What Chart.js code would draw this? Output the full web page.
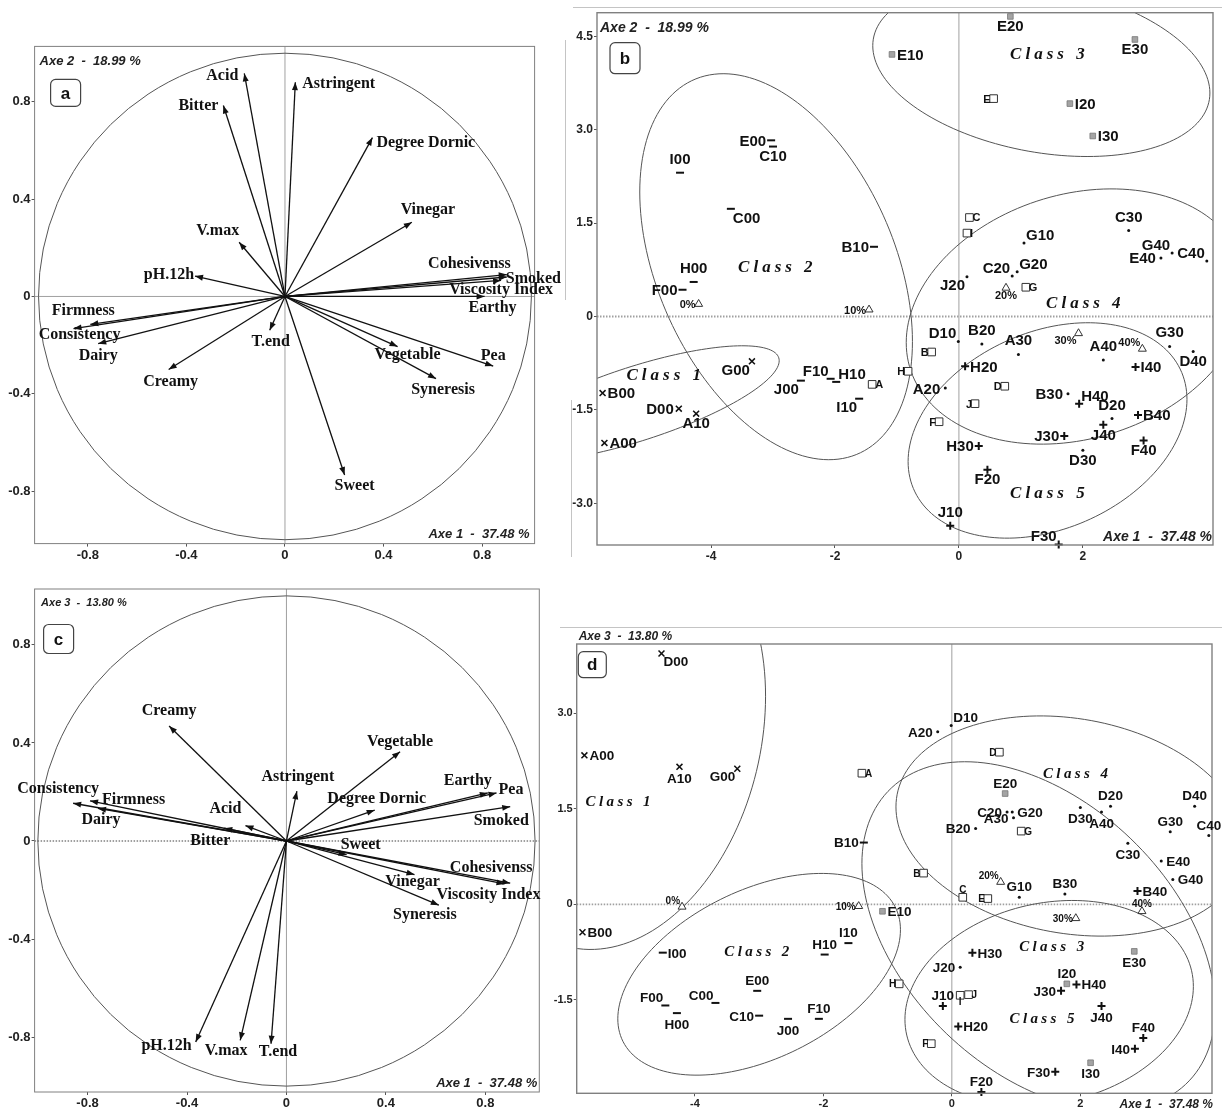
<!DOCTYPE html>
<html lang="en">
<head>
<meta charset="utf-8">
<title>PCA maps</title>
<script src="https://cdn.jsdelivr.net/npm/chart.js@4.4.1/dist/chart.umd.min.js"></script>
<style>
    html, body { margin: 0; padding: 0; background: #fff; }
    body { position: relative; width: 1222px; height: 1112px; overflow: hidden; }
    canvas { position: absolute; }
    .scan { position: absolute; background: #c4c4c4; }
</style>
</head>
<body>
<div class="scan" style="left:565px;top:40px;width:1px;height:260px"></div>
<div class="scan" style="left:571px;top:400px;width:1px;height:157px"></div>
<div class="scan" style="left:573px;top:7px;width:649px;height:1px"></div>
<div class="scan" style="left:560px;top:627px;width:662px;height:1px"></div>
<canvas id="panelA"></canvas>
<canvas id="panelB"></canvas>
<canvas id="panelC"></canvas>
<canvas id="panelD"></canvas>
<script>
/**
 * PCA of the products: correlation circles (a, c) and sample maps
 * with the class ellipses (b, d), axes 1-2 on top and 1-3 below.
 */

// ---- variables: correlations with axes 1, 2 and 3 ----
const variables = ['Acid', 'Astringent', 'Bitter', 'Degree Dornic', 'Vinegar', 'V.max', 'pH.12h',
    'Cohesivenss', 'Smoked', 'Viscosity Index', 'Earthy', 'Firmness', 'Consistency', 'Dairy',
    'Creamy', 'T.end', 'Vegetable', 'Pea', 'Syneresis', 'Sweet'];
const varAxe1 = [-0.165, 0.042, -0.25, 0.355, 0.515, -0.186, -0.365,
    0.90, 0.90, 0.877, 0.81, -0.79, -0.858, -0.758,
    -0.472, -0.062, 0.457, 0.845, 0.613, 0.242];
const varAxe2 = [0.917, 0.881, 0.785, 0.653, 0.305, 0.223, 0.084,
    0.09, 0.08, 0.066, 0.0, -0.115, -0.132, -0.194,
    -0.30, -0.139, -0.206, -0.286, -0.338, -0.734];
const varAxe3 = [0.063, 0.203, 0.052, 0.126, -0.137, -0.813, -0.82,
    -0.172, 0.14, -0.175, 0.196, 0.164, 0.154, 0.133,
    0.469, -0.827, 0.364, 0.196, -0.262, -0.056];

// ---- samples: class and coordinates on axes 1, 2 and 3 ----
const samples = ['A00', 'B00', 'D00', 'G00', 'A10',
    'C00', 'E00', 'F00', 'H00', 'I00', 'J00', 'B10', 'C10', 'F10', 'H10', 'I10',
    'E10', 'E20', 'E30', 'I20', 'I30',
    'D10', 'A20', 'B20', 'C20', 'G20', 'J20', 'G10', 'A30', 'B30', 'C30', 'D30', 'G30', 'A40', 'C40', 'D40', 'E40', 'G40', 'D20',
    'H20', 'J10', 'F20', 'F30', 'H30', 'J30', 'H40', 'I40', 'B40', 'J40', 'F40'];
const sampleClass = [1, 1, 1, 1, 1,
    2, 2, 2, 2, 2, 2, 2, 2, 2, 2, 2,
    3, 3, 3, 3, 3,
    4, 4, 4, 4, 4, 4, 4, 4, 4, 4, 4, 4, 4, 4, 4, 4, 4, 4,
    5, 5, 5, 5, 5, 5, 5, 5, 5, 5, 5];
const sampleAxe1 = [-5.72, -5.75, -4.52, -3.34, -4.24,
    -3.68, -3.03, -4.46, -4.28, -4.50, -2.55, -1.37, -3.00, -2.07, -1.98, -1.61,
    -1.08, 0.83, 2.84, 1.79, 2.16,
    -0.01, -0.22, 0.37, 0.86, 0.94, 0.13, 1.05, 0.96, 1.76, 2.74, 2.00, 3.40, 2.33, 4.00, 3.78, 3.26, 3.44, 2.47,
    0.10, -0.14, 0.46, 1.61, 0.32, 1.70, 1.94, 2.85, 2.89, 2.33, 2.98];
const sampleAxe2 = [-2.03, -1.23, -1.48, -0.72, -1.56,
    1.73, 2.83, 0.43, 0.555, 2.31, -1.03, 1.12, 2.73, -1.00, -1.05, -1.32,
    4.21, 4.82, 4.45, 3.42, 2.90,
    -0.40, -1.15, -0.44, 0.65, 0.72, 0.64, 1.18, -0.61, -1.24, 1.38, -2.15, -0.48, -0.70, 0.89, -0.56, 0.94, 1.02, -1.64,
    -0.80, -3.36, -2.46, -3.66, -2.08, -1.92, -1.40, -0.81, -1.58, -1.74, -1.99];
const sampleAxe3 = [2.34, -0.44, 3.94, 2.13, 2.16,
    -1.55, -1.36, -1.59, -1.71, -0.76, -1.80, 0.97, -1.75, -1.80, -0.79, -0.61,
    -0.11, 1.74, -0.74, -1.25, -2.49,
    2.81, 2.71, 1.19, 1.45, 1.45, -0.99, 0.11, 1.36, 0.16, 0.96, 1.52, 1.14, 1.45, 1.08, 1.54, 0.68, 0.39, 1.54,
    -1.92, -1.60, -2.95, -2.63, -0.76, -1.36, -1.26, -2.27, 0.21, -1.60, -2.10];

// ---- supplementary points: strains (squares) and doses (triangles) ----
const strainNames = ['A', 'B', 'C', 'D', 'E', 'F', 'G', 'H', 'I', 'J'];
const strainAxe1 = [-1.40, -0.44, 0.17, 0.74, 0.56, -0.32, 1.08, -0.82, 0.13, 0.26];
const strainAxe2 = [-1.09, -0.57, 1.59, -1.12, 3.50, -1.69, 0.47, -0.88, 1.34, -1.40];
const strainAxe3 = [2.06, 0.49, 0.11, 2.39, 0.09, -2.19, 1.15, -1.25, -1.43, -1.42];
const doseNames = ['0%', '10%', '20%', '30%', '40%'];
const doseAxe1 = [-4.20, -1.45, 0.76, 1.93, 2.96];
const doseAxe2 = [0.20, 0.11, 0.46, -0.27, -0.52];
const doseAxe3 = [-0.04, -0.03, 0.35, -0.22, -0.11];

// ---- classes: ellipse = centre x, centre y, half width, half height, y shift at widest point ----
const classNames = ['Class 1', 'Class 2', 'Class 3', 'Class 4', 'Class 5'];
const ellipsesB = [
    [-5.2, -1.4, 2.3, 0.93, 0.69],
    [-2.95, 0.80, 2.2, 3.1, -1.2],
    [1.33, 3.97, 2.72, 1.40, -0.38],
    [1.9, 0.0, 2.75, 2.05, 0.42],
    [1.43, -1.83, 2.25, 1.73, 0.5]
];
const ellipsesD = [
    [-5.2, 2.65, 2.3, 3.36, 0.62],
    [-3.0, -1.1, 2.2, 1.585, 0.70],
    [1.35, -0.5, 2.75, 2.74, -1.14],
    [1.85, 1.23, 2.72, 1.73, -0.30],
    [1.515, -1.55, 2.245, 1.61, 0.26]
];
const classSpotB = [[-4.73, -0.95], [-2.93, 0.79], [1.46, 4.21], [2.04, 0.21], [1.46, -2.85]];
const classSpotD = [[-5.17, 1.61], [-3.01, -0.75], [1.58, -0.67], [1.95, 2.04], [1.43, -1.81]];

// ---- axes ----
const circleTicks = [-0.8, -0.4, 0, 0.4, 0.8];
const mapTicksX = [-4, -2, 0, 2];
const mapTicksYB = [-3, -1.5, 0, 1.5, 3, 4.5];
const mapTicksYD = [-1.5, 0, 1.5, 3];
const axe1Title = 'Axe 1  -  37.48 %';
const axe2Title = 'Axe 2  -  18.99 %';
const axe3Title = 'Axe 3  -  13.80 %';

const SERIF = '"Liberation Serif", "Times New Roman", serif';
const SANS = '"Liberation Sans", Arial, Helvetica, sans-serif';

// label spots around the arrow tips: [dx, dy, align]
const placeA = {
    'Acid': [-6, 2, 'right'], 'Astringent': [7, 2, 'left'], 'Bitter': [-5, 0, 'right'],
    'Degree Dornic': [4, 5, 'left'], 'Vinegar': [16, -12, 'center'], 'V.max': [0, -11, 'right'],
    'pH.12h': [-1, -1, 'right'], 'Cohesivenss': [4, -11, 'right'], 'Smoked': [-1, 2, 'left'],
    'Viscosity Index': [0, 9, 'center'], 'Earthy': [8, 11, 'center'], 'Firmness': [-7, -14, 'center'],
    'Consistency': [6, 6, 'center'], 'Dairy': [0, 12, 'center'], 'Creamy': [2, 12, 'center'],
    'T.end': [1, 12, 'center'], 'Vegetable': [10, 8, 'center'], 'Pea': [0, -10, 'center'],
    'Syneresis': [7, 11, 'center'], 'Sweet': [10, 11, 'center']
};
const placeC = {
    'Creamy': [0, -15, 'center'], 'Vegetable': [0, -10, 'center'], 'Astringent': [1, -14, 'center'],
    'Earthy': [4, -12, 'right'], 'Pea': [2, -3, 'left'], 'Degree Dornic': [2, -11, 'center'],
    'Smoked': [-9, 14, 'center'], 'Consistency': [-15, -14, 'center'], 'Firmness': [12, -1, 'left'],
    'Dairy': [3, 11, 'center'], 'Acid': [-20, -17, 'center'], 'Bitter': [-14, 13, 'center'],
    'Sweet': [14, -10, 'center'], 'Cohesivenss': [-19, -15, 'center'], 'Vinegar': [-2, 7, 'center'],
    'Viscosity Index': [-16, 11, 'center'], 'Syneresis': [-14, 10, 'center'], 'pH.12h': [-4, 4, 'right'],
    'V.max': [-14, 11, 'center'], 'T.end': [7, 8, 'center']
};

// label spots around the sample marks: r, l, t, b or a corner
const placeB = {
    A00: 'r', B00: 'r', D00: 'l', G00: 'bl', A10: 'b',
    C00: 'br', E00: 'l', F00: 'l', H00: 't', I00: 't', J00: 'bl', B10: 'l', C10: 'b', F10: 'tl', H10: 'tr', I10: 'bl',
    E10: 'r', E20: 'b', E30: 'b', I20: 'r', I30: 'r',
    D10: 'tl', A20: 'l', B20: 't', C20: 'tl', G20: 'tr', J20: 'bl', G10: 'tr', A30: 't', B30: 'l', C30: 't',
    D30: 'b', G30: 't', A40: 't', C40: 'tl', D40: 'b', E40: 'l', G40: 'tl', D20: 't',
    H20: 'r', J10: 't', F20: 'b', F30: 'tl', H30: 'l', J30: 'l', H40: 'tr', I40: 'r', B40: 'r', J40: 'b', F40: 'b',
    A: 'r', B: 'l', C: 'r', D: 'l', E: 'l', F: 'l', G: 'r', H: 'l', I: 'r', J: 'l',
    '0%': 'l', '10%': 'l', '20%': 'b', '30%': 'bl', '40%': 'tl'
};
const placeD = {
    A00: 'r', B00: 'r', D00: 'br', G00: 'bl', A10: 'b',
    C00: 'tl', E00: 't', F00: 'tl', H00: 'b', I00: 'r', J00: 'b', B10: 'l', C10: 'l', F10: 't', H10: 't', I10: 't',
    E10: 'r', E20: 't', E30: 'b', I20: 't', I30: 'b',
    D10: 'tr', A20: 'l', B20: 'l', C20: 'l', G20: 'r', J20: 'l', G10: 't', A30: 'l', B30: 't', C30: 'b',
    D30: 'b', G30: 't', A40: 'b', C40: 't', D40: 't', E40: 'r', G40: 'r', D20: 't',
    H20: 'r', J10: 't', F20: 't', F30: 'l', H30: 'r', J30: 'l', H40: 'r', I40: 'l', B40: 'r', J40: 'b', F40: 't',
    A: 'r', B: 'l', C: 't', D: 'l', E: 'l', F: 'l', G: 'r', H: 'l', I: 'b', J: 'r',
    '0%': 'tl', '10%': 'l', '20%': 'tl', '30%': 'l', '40%': 't'
};

const fmtDecimal = v => (v === 0 ? '0' : v.toFixed(1));
const fmtInteger = v => String(v);

/**
 * Size and place a canvas; the padding puts the plot frame where it is in the figure
 */
function placeCanvas(id, box, frame, yAxisW, xAxisH) {
    const canvas = document.getElementById(id);
    canvas.width = box.w;
    canvas.height = box.h;
    canvas.style.left = box.left + 'px';
    canvas.style.top = box.top + 'px';
    canvas.style.width = box.w + 'px';
    canvas.style.height = box.h + 'px';
    const padding = {
        left: frame.l - box.left - yAxisW,
        top: frame.t - box.top,
        right: box.left + box.w - frame.r,
        bottom: box.top + box.h - frame.b - xAxisH
    };
    return { canvas, padding };
}

function linearAxis(min, max, ticks, fmt, fontSize, fitSize, horizontal) {
    return {
        type: 'linear',
        min: min,
        max: max,
        afterBuildTicks: scale => { scale.ticks = ticks.map(v => ({ value: v })); },
        afterFit: scale => {
            if (horizontal) scale.height = fitSize; else scale.width = fitSize;
        },
        ticks: {
            autoSkip: false,
            maxRotation: 0,
            padding: 1,
            color: '#222',
            font: { family: SANS, size: fontSize, weight: 'bold' },
            callback: value => fmt(value)
        },
        grid: { drawOnChartArea: false, drawTicks: true, tickLength: 3, tickColor: '#555', color: '#555' },
        border: { display: false }
    };
}

function drawZeroLines(ctx, a, x, y, dotted) {
    const x0 = x.getPixelForValue(0);
    const y0 = y.getPixelForValue(0);
    ctx.save();
    ctx.strokeStyle = '#888';
    ctx.lineWidth = 0.8;
    ctx.beginPath();
    ctx.moveTo(x0, a.top);
    ctx.lineTo(x0, a.bottom);
    ctx.stroke();
    if (dotted) {
        ctx.strokeStyle = '#a0a0a0';
        ctx.lineWidth = 1.8;
        ctx.setLineDash([1.5, 1.5]);
    }
    ctx.beginPath();
    ctx.moveTo(a.left, y0);
    ctx.lineTo(a.right, y0);
    ctx.stroke();
    ctx.restore();
}

function drawFrame(ctx, a, width) {
    ctx.save();
    ctx.strokeStyle = '#808080';
    ctx.lineWidth = width;
    ctx.strokeRect(a.left, a.top, a.right - a.left, a.bottom - a.top);
    ctx.restore();
}

function drawAxisTitles(ctx, a, t) {
    ctx.save();
    ctx.fillStyle = '#222';
    ctx.textBaseline = 'alphabetic';
    ctx.font = 'italic bold ' + t.topSize + 'px ' + SANS;
    ctx.textAlign = 'left';
    ctx.fillText(t.top, a.left + t.topDx, a.top + t.topDy);
    ctx.font = 'italic bold ' + t.bottomSize + 'px ' + SANS;
    ctx.textAlign = 'right';
    ctx.fillText(axe1Title, a.right + t.bottomDx, a.bottom + t.bottomDy);
    ctx.restore();
}

function drawLetterBox(ctx, a, box, letter) {
    ctx.save();
    ctx.fillStyle = '#fff';
    ctx.strokeStyle = '#444';
    ctx.lineWidth = 1.2;
    ctx.beginPath();
    ctx.roundRect(a.left + box[0], a.top + box[1], box[2], box[3], 5);
    ctx.fill();
    ctx.stroke();
    ctx.fillStyle = '#111';
    ctx.font = 'bold 17px ' + SANS;
    ctx.textAlign = 'center';
    ctx.textBaseline = 'middle';
    ctx.fillText(letter, a.left + box[0] + box[2] / 2, a.top + box[1] + box[3] / 2 + 1);
    ctx.restore();
}

function drawArrowHead(ctx, x1, y1, ang) {
    const len = 8, half = 3;
    ctx.beginPath();
    ctx.moveTo(x1, y1);
    ctx.lineTo(x1 - len * Math.cos(ang) + half * Math.sin(ang), y1 - len * Math.sin(ang) - half * Math.cos(ang));
    ctx.lineTo(x1 - len * Math.cos(ang) - half * Math.sin(ang), y1 - len * Math.sin(ang) + half * Math.cos(ang));
    ctx.closePath();
    ctx.fill();
}

/**
 * Correlation circle: one arrow per variable from the origin
 */
function loadingChart(cfg) {
    const { canvas, padding } = placeCanvas(cfg.id, cfg.box, cfg.frame, 30, cfg.xAxisH);

    const datasets = variables.map((name, i) => ({
        label: name,
        data: [{ x: 0, y: 0 }, { x: varAxe1[i], y: cfg.yValues[i] }],
        showLine: true,
        borderColor: '#111',
        borderWidth: 1.3,
        pointRadius: 0,
        clip: false
    }));

    const decor = {
        id: 'decor' + cfg.id,
        beforeDatasetsDraw(chart) {
            const { ctx, chartArea: a, scales: { x, y } } = chart;
            drawZeroLines(ctx, a, x, y, cfg.dottedZero);
            ctx.save();
            ctx.strokeStyle = '#555';
            ctx.lineWidth = 1;
            ctx.beginPath();
            ctx.ellipse(x.getPixelForValue(0), y.getPixelForValue(0),
                x.getPixelForValue(1) - x.getPixelForValue(0),
                y.getPixelForValue(0) - y.getPixelForValue(1), 0, 0, Math.PI * 2);
            ctx.stroke();
            ctx.restore();
        },
        afterDatasetsDraw(chart) {
            const { ctx, chartArea: a, scales: { x, y } } = chart;
            drawFrame(ctx, a, 1);
            ctx.save();
            ctx.fillStyle = '#111';
            ctx.font = 'bold 16px ' + SERIF;
            ctx.textBaseline = 'middle';
            variables.forEach((name, i) => {
                const x0 = x.getPixelForValue(0), y0 = y.getPixelForValue(0);
                const x1 = x.getPixelForValue(varAxe1[i]), y1 = y.getPixelForValue(cfg.yValues[i]);
                drawArrowHead(ctx, x1, y1, Math.atan2(y1 - y0, x1 - x0));
                const p = cfg.place[name];
                ctx.textAlign = p[2];
                ctx.fillText(name, x1 + p[0], y1 + p[1]);
            });
            ctx.restore();
            drawAxisTitles(ctx, a, cfg.titles);
            drawLetterBox(ctx, a, cfg.letterBox, cfg.letter);
        }
    };

    return new Chart(canvas, {
        type: 'scatter',
        data: { datasets },
        options: {
            responsive: false,
            animation: false,
            devicePixelRatio: 1,
            events: [],
            layout: { padding },
            plugins: { legend: { display: false }, tooltip: { enabled: false } },
            scales: {
                x: linearAxis(cfg.xRange[0], cfg.xRange[1], circleTicks, fmtDecimal, 13, cfg.xAxisH, true),
                y: linearAxis(cfg.yRange[0], cfg.yRange[1], circleTicks, fmtDecimal, 13, 30, false)
            }
        },
        plugins: [decor]
    });
}

// marks of the five classes
const classMarks = [
    { pointStyle: 'crossRot', pointRadius: 4.2, borderWidth: 1.5, borderColor: '#111', backgroundColor: '#111' },
    { pointStyle: 'line', pointRadius: 4, borderWidth: 2, borderColor: '#111', backgroundColor: '#111' },
    { pointStyle: 'rect', pointRadius: 4, borderWidth: 0.8, borderColor: '#777', backgroundColor: '#a4a4a4' },
    { pointStyle: 'circle', pointRadius: 1.5, borderWidth: 0, borderColor: '#111', backgroundColor: '#111' },
    { pointStyle: 'cross', pointRadius: 4, borderWidth: 2, borderColor: '#111', backgroundColor: '#111' }
];

function putLabel(ctx, text, px, py, spot, gap, size) {
    const cap = size * 0.72;
    let tx = px, ty = py + cap / 2, align = 'center';
    if (spot.length === 2) {
        tx = spot[1] === 'l' ? px - 2 : px + 2;
        align = spot[1] === 'l' ? 'right' : 'left';
        ty = spot[0] === 't' ? py - 3 : py + 3 + cap;
    } else if (spot === 'r') {
        tx = px + gap.side; align = 'left';
    } else if (spot === 'l') {
        tx = px - gap.side; align = 'right';
    } else if (spot === 't') {
        ty = py - gap.top;
    } else if (spot === 'b') {
        ty = py + gap.bottom + cap;
    }
    ctx.textAlign = align;
    ctx.fillText(text, tx, ty);
}

function traceEllipse(ctx, x, y, e) {
    const [cx, cy, w, h, ry] = e;
    const k = Math.sqrt(h * h - ry * ry);
    ctx.beginPath();
    for (let s = 0; s <= 160; s++) {
        const t = s / 160 * Math.PI * 2;
        const px = x.getPixelForValue(cx + w * Math.cos(t));
        const py = y.getPixelForValue(cy + ry * Math.cos(t) + k * Math.sin(t));
        if (s === 0) ctx.moveTo(px, py); else ctx.lineTo(px, py);
    }
    ctx.stroke();
}

/**
 * Sample map: samples by class, strains and doses, class ellipses
 */
function mapChart(cfg) {
    const { canvas, padding } = placeCanvas(cfg.id, cfg.box, cfg.frame, cfg.yAxisW, cfg.xAxisH);

    const datasets = classNames.map((cls, k) => Object.assign({
        label: cls,
        data: samples.map((s, i) => ({ x: sampleAxe1[i], y: cfg.sampleY[i], name: s }))
            .filter((p, i) => sampleClass[i] === k + 1),
        clip: false,
        kind: 'sample'
    }, classMarks[k]));

    datasets.push({
        label: 'strains',
        data: strainNames.map((s, i) => ({ x: strainAxe1[i], y: cfg.strainY[i], name: s })),
        pointStyle: 'rect', pointRadius: 5.4, borderWidth: 1, borderColor: '#333', backgroundColor: '#fff',
        clip: false, kind: 'small'
    });
    datasets.push({
        label: 'doses',
        data: doseNames.map((s, i) => ({ x: doseAxe1[i], y: cfg.doseY[i], name: s })),
        pointStyle: 'triangle', pointRadius: 4.6, borderWidth: 1, borderColor: '#333', backgroundColor: '#fff',
        clip: false, kind: 'small'
    });

    const decor = {
        id: 'decor' + cfg.id,
        beforeDatasetsDraw(chart) {
            const { ctx, chartArea: a, scales: { x, y } } = chart;
            drawZeroLines(ctx, a, x, y, true);
            ctx.save();
            ctx.beginPath();
            ctx.rect(a.left, a.top, a.right - a.left, a.bottom - a.top);
            ctx.clip();
            ctx.strokeStyle = '#555';
            ctx.lineWidth = 1;
            cfg.ellipses.forEach(e => traceEllipse(ctx, x, y, e));
            ctx.restore();
        },
        afterDatasetsDraw(chart) {
            const { ctx, chartArea: a, scales: { x, y } } = chart;
            drawFrame(ctx, a, 1.4);
            ctx.save();
            ctx.fillStyle = '#111';
            ctx.textBaseline = 'alphabetic';
            chart.data.datasets.forEach((ds, di) => {
                const size = ds.kind === 'sample' ? cfg.labelSize : cfg.smallSize;
                const gap = ds.kind === 'sample' ? cfg.gap : { side: 3, top: 4, bottom: 3 };
                ctx.font = 'bold ' + size + 'px ' + SANS;
                chart.getDatasetMeta(di).data.forEach((pt, j) => {
                    const name = ds.data[j].name;
                    putLabel(ctx, name, pt.x, pt.y, cfg.place[name] || 'r', gap, size);
                });
            });
            // class names
            ctx.font = 'italic bold ' + cfg.classSize + 'px ' + SERIF;
            ctx.letterSpacing = cfg.classSpacing + 'px';
            ctx.textAlign = 'center';
            ctx.textBaseline = 'middle';
            classNames.forEach((cls, k) => {
                ctx.fillText(cls, x.getPixelForValue(cfg.classSpot[k][0]), y.getPixelForValue(cfg.classSpot[k][1]));
            });
            ctx.restore();
            drawAxisTitles(ctx, a, cfg.titles);
            drawLetterBox(ctx, a, cfg.letterBox, cfg.letter);
        }
    };

    return new Chart(canvas, {
        type: 'scatter',
        data: { datasets },
        options: {
            responsive: false,
            animation: false,
            devicePixelRatio: 1,
            events: [],
            layout: { padding },
            plugins: { legend: { display: false }, tooltip: { enabled: false } },
            scales: {
                x: linearAxis(cfg.xRange[0], cfg.xRange[1], mapTicksX, fmtInteger, cfg.tickSize, cfg.xAxisH, true),
                y: linearAxis(cfg.yRange[0], cfg.yRange[1], cfg.yTicks, fmtDecimal, cfg.tickSize, cfg.yAxisW, false)
            }
        },
        plugins: [decor]
    });
}

loadingChart({
    id: 'panelA',
    box: { left: 0, top: 20, w: 580, h: 550 },
    frame: { l: 34.6, t: 46.4, r: 534.6, b: 543.6 },
    xAxisH: 20,
    xRange: [-1.016, 1.013],
    yRange: [-1.016, 1.028],
    yValues: varAxe2,
    place: placeA,
    dottedZero: false,
    titles: { top: axe2Title, topSize: 13, topDx: 5, topDy: 19, bottomSize: 13, bottomDx: -5, bottomDy: -6 },
    letter: 'a',
    letterBox: [16, 33, 30, 27]
});

mapChart({
    id: 'panelB',
    box: { left: 555, top: 0, w: 667, h: 570 },
    frame: { l: 597, t: 12.7, r: 1213, b: 545 },
    yAxisW: 36,
    xAxisH: 20,
    xRange: [-5.84, 4.10],
    yRange: [-3.67, 4.88],
    yTicks: mapTicksYB,
    tickSize: 12,
    sampleY: sampleAxe2,
    strainY: strainAxe2,
    doseY: doseAxe2,
    ellipses: ellipsesB,
    classSpot: classSpotB,
    place: placeB,
    labelSize: 15,
    smallSize: 11,
    gap: { side: 5, top: 9, bottom: 4 },
    classSize: 17,
    classSpacing: 4,
    titles: { top: axe2Title, topSize: 14, topDx: 3, topDy: 19, bottomSize: 14, bottomDx: -1, bottomDy: -4 },
    letter: 'b',
    letterBox: [13, 30, 30, 31]
});

loadingChart({
    id: 'panelC',
    box: { left: 0, top: 570, w: 580, h: 542 },
    frame: { l: 34.6, t: 589, r: 539.3, b: 1092 },
    xAxisH: 18,
    xRange: [-1.013, 1.017],
    yRange: [-1.024, 1.028],
    yValues: varAxe3,
    place: placeC,
    dottedZero: true,
    titles: { top: axe3Title, topSize: 11, topDx: 6.5, topDy: 16.5, bottomSize: 13, bottomDx: -2, bottomDy: -5 },
    letter: 'c',
    letterBox: [9, 35.5, 30, 29]
});

mapChart({
    id: 'panelD',
    box: { left: 548, top: 620, w: 674, h: 492 },
    frame: { l: 576.7, t: 644, r: 1212, b: 1093.3 },
    yAxisW: 26,
    xAxisH: 17,
    xRange: [-5.84, 4.05],
    yRange: [-2.97, 4.09],
    yTicks: mapTicksYD,
    tickSize: 11,
    sampleY: sampleAxe3,
    strainY: strainAxe3,
    doseY: doseAxe3,
    ellipses: ellipsesD,
    classSpot: classSpotD,
    place: placeD,
    labelSize: 13.5,
    smallSize: 10,
    gap: { side: 5, top: 6, bottom: 6 },
    classSize: 15,
    classSpacing: 3.4,
    titles: { top: axe3Title, topSize: 12, topDx: 2, topDy: -4.5, bottomSize: 12, bottomDx: 1, bottomDy: 15 },
    letter: 'd',
    letterBox: [1.6, 7.7, 28, 26]
});
</script>
</body>
</html>
